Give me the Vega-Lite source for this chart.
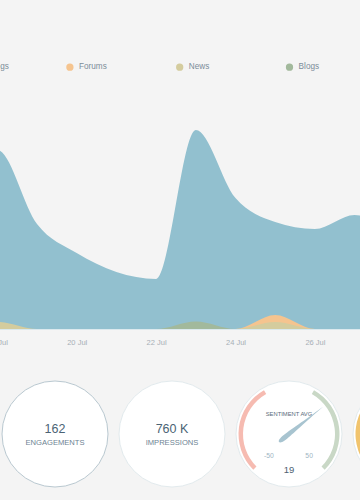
{
  "$schema": "https://vega.github.io/schema/vega-lite/v6.json",
  "width": 360,
  "height": 500,
  "autosize": {"type": "none"},
  "padding": 0,
  "background": "#f4f4f4",
  "config": {"view": {"stroke": null}, "font": "Liberation Sans"},
  "datasets": {
    "mentions": [
      {"date": "2015/07/17", "source": "Microblogs", "count": 140},
      {"date": "2015/07/18", "source": "Microblogs", "count": 179},
      {"date": "2015/07/19", "source": "Microblogs", "count": 105},
      {"date": "2015/07/20", "source": "Microblogs", "count": 76},
      {"date": "2015/07/21", "source": "Microblogs", "count": 57},
      {"date": "2015/07/22", "source": "Microblogs", "count": 50},
      {"date": "2015/07/23", "source": "Microblogs", "count": 199},
      {"date": "2015/07/24", "source": "Microblogs", "count": 131},
      {"date": "2015/07/25", "source": "Microblogs", "count": 107},
      {"date": "2015/07/26", "source": "Microblogs", "count": 100},
      {"date": "2015/07/27", "source": "Microblogs", "count": 114},
      {"date": "2015/07/28", "source": "Microblogs", "count": 95},
      {"date": "2015/07/17", "source": "Forums", "count": 0},
      {"date": "2015/07/18", "source": "Forums", "count": 0},
      {"date": "2015/07/19", "source": "Forums", "count": 0},
      {"date": "2015/07/20", "source": "Forums", "count": 0},
      {"date": "2015/07/21", "source": "Forums", "count": 0},
      {"date": "2015/07/22", "source": "Forums", "count": 0},
      {"date": "2015/07/23", "source": "Forums", "count": 0},
      {"date": "2015/07/24", "source": "Forums", "count": 0},
      {"date": "2015/07/25", "source": "Forums", "count": 14},
      {"date": "2015/07/26", "source": "Forums", "count": 0},
      {"date": "2015/07/27", "source": "Forums", "count": 0},
      {"date": "2015/07/28", "source": "Forums", "count": 0},
      {"date": "2015/07/17", "source": "News", "count": 5},
      {"date": "2015/07/18", "source": "News", "count": 7},
      {"date": "2015/07/19", "source": "News", "count": 0},
      {"date": "2015/07/20", "source": "News", "count": 0},
      {"date": "2015/07/21", "source": "News", "count": 0},
      {"date": "2015/07/22", "source": "News", "count": 0},
      {"date": "2015/07/23", "source": "News", "count": 0},
      {"date": "2015/07/24", "source": "News", "count": 0},
      {"date": "2015/07/25", "source": "News", "count": 7},
      {"date": "2015/07/26", "source": "News", "count": 0},
      {"date": "2015/07/27", "source": "News", "count": 0},
      {"date": "2015/07/28", "source": "News", "count": 0},
      {"date": "2015/07/17", "source": "Blogs", "count": 0},
      {"date": "2015/07/18", "source": "Blogs", "count": 0},
      {"date": "2015/07/19", "source": "Blogs", "count": 0},
      {"date": "2015/07/20", "source": "Blogs", "count": 0},
      {"date": "2015/07/21", "source": "Blogs", "count": 0},
      {"date": "2015/07/22", "source": "Blogs", "count": 0},
      {"date": "2015/07/23", "source": "Blogs", "count": 7.5},
      {"date": "2015/07/24", "source": "Blogs", "count": 0},
      {"date": "2015/07/25", "source": "Blogs", "count": 0},
      {"date": "2015/07/26", "source": "Blogs", "count": 0},
      {"date": "2015/07/27", "source": "Blogs", "count": 0},
      {"date": "2015/07/28", "source": "Blogs", "count": 0}
    ],
    "tiles": [
      {"tile": "Engagements"},
      {"tile": "Impressions"},
      {"tile": "Sentiment"},
      {"tile": "Share"}
    ],
    "kpis": [
      {"tile": "Engagements", "value": "162", "label": "ENGAGEMENTS"},
      {"tile": "Impressions", "value": "760 K", "label": "IMPRESSIONS"}
    ],
    "bands": [
      {"tile": "Sentiment", "band": "negative", "from": -50, "to": -11},
      {"tile": "Sentiment", "band": "positive", "from": 11, "to": 50},
      {"tile": "Share", "band": "share", "from": -50, "to": -11}
    ],
    "gauge": [
      {"tile": "Sentiment", "title": "SENTIMENT AVG", "value": 19}
    ],
    "gaugeEnds": [
      {"tile": "Sentiment", "v": -50},
      {"tile": "Sentiment", "v": 50}
    ]
  },
  "layer": [
    {
      "data": {"name": "mentions"},
      "mark": {"type": "area", "interpolate": "monotone", "opacity": 1, "clip": true},
      "encoding": {
        "x": {
          "field": "date",
          "type": "temporal",
          "scale": {
            "domain": [
              {"year": 2015, "month": "jul", "date": 18},
              {"year": 2015, "month": "jul", "date": 28}
            ],
            "range": [-2.7, 394.3]
          },
          "axis": {
            "offset": -171,
            "values": [
              {"year": 2015, "month": "jul", "date": 18},
              {"year": 2015, "month": "jul", "date": 20},
              {"year": 2015, "month": "jul", "date": 22},
              {"year": 2015, "month": "jul", "date": 24},
              {"year": 2015, "month": "jul", "date": 26}
            ],
            "format": "%d %b",
            "title": null,
            "grid": false,
            "ticks": false,
            "domain": true,
            "domainColor": "#dbe9ee",
            "domainWidth": 1,
            "labelFontSize": 7.5,
            "labelColor": "#a7afb6",
            "labelPadding": 9,
            "labelFlush": false,
            "labelOverlap": false,
            "labelBound": false
          }
        },
        "y": {
          "field": "count",
          "type": "quantitative",
          "stack": null,
          "scale": {"domain": [0, 200], "range": [329, 129]},
          "axis": null
        },
        "color": {
          "field": "source",
          "type": "nominal",
          "scale": {
            "domain": ["Microblogs", "Forums", "News", "Blogs"],
            "range": ["#92c0cf", "#f5c48f", "#d4cc9e", "#a2b99c"]
          },
          "legend": {
            "orient": "none",
            "legendX": -44,
            "legendY": 63,
            "direction": "horizontal",
            "columns": 4,
            "gridAlign": "all",
            "columnPadding": 56.8,
            "title": null,
            "symbolType": "circle",
            "symbolSize": 53,
            "symbolStrokeWidth": 0,
            "symbolOpacity": 1,
            "labelFontSize": 8.2,
            "labelColor": "#7b8c99",
            "labelOffset": 5,
            "padding": 0
          }
        }
      }
    },
    {
      "layer": [
        {
          "data": {"name": "tiles"},
          "mark": {"type": "point", "shape": "circle", "filled": true, "size": 11236, "fill": "#ffffff", "strokeWidth": 1, "opacity": 1},
          "encoding": {
            "x": {"field": "tile", "type": "nominal", "scale": {"type": "point", "domain": ["Engagements", "Impressions", "Sentiment", "Share"], "range": [55, 406], "padding": 0}, "axis": null},
            "y": {"datum": 0, "type": "quantitative", "scale": {"domain": [0, 1], "range": [434, 334]}, "axis": null},
            "stroke": {"field": "tile", "type": "nominal", "scale": {"domain": ["Engagements", "Impressions", "Sentiment", "Share"], "range": ["#b9c8d0", "#e2eaed", "#e2eaed", "#e2eaed"]}, "legend": null}
          }
        },
        {
          "data": {"name": "bands"},
          "mark": {"type": "arc", "radius": 50.5, "radius2": 46},
          "encoding": {
            "x": {"field": "tile", "type": "nominal", "scale": {"type": "point", "domain": ["Engagements", "Impressions", "Sentiment", "Share"], "range": [55, 406], "padding": 0}, "axis": null},
            "y": {"datum": 0, "type": "quantitative", "scale": {"domain": [0, 1], "range": [434, 334]}, "axis": null},
            "theta": {"field": "from", "type": "quantitative", "stack": null, "scale": {"domain": [-50, 50], "range": [-2.35619, 2.35619]}},
            "theta2": {"field": "to"},
            "fill": {"field": "band", "type": "nominal", "scale": {"domain": ["negative", "positive", "share"], "range": ["#f6bbb1", "#c9d8c6", "#f1c46e"]}, "legend": null}
          }
        },
        {
          "data": {"name": "kpis"},
          "mark": {"type": "text", "fontSize": 12.5, "color": "#4b6374", "baseline": "alphabetic", "align": "center", "dy": -1},
          "encoding": {
            "x": {"field": "tile", "type": "nominal", "scale": {"type": "point", "domain": ["Engagements", "Impressions", "Sentiment", "Share"], "range": [55, 406], "padding": 0}, "axis": null},
            "y": {"datum": 0, "type": "quantitative", "scale": {"domain": [0, 1], "range": [434, 334]}, "axis": null},
            "text": {"field": "value"}
          }
        },
        {
          "data": {"name": "kpis"},
          "mark": {"type": "text", "fontSize": 7.6, "color": "#6e8393", "baseline": "alphabetic", "align": "center", "dy": 11.3},
          "encoding": {
            "x": {"field": "tile", "type": "nominal", "scale": {"type": "point", "domain": ["Engagements", "Impressions", "Sentiment", "Share"], "range": [55, 406], "padding": 0}, "axis": null},
            "y": {"datum": 0, "type": "quantitative", "scale": {"domain": [0, 1], "range": [434, 334]}, "axis": null},
            "text": {"field": "label"}
          }
        },
        {
          "data": {"name": "gauge"},
          "mark": {"type": "text", "fontSize": 5.8, "color": "#5a6b7b", "baseline": "alphabetic", "align": "center", "dy": -18},
          "encoding": {
            "x": {"field": "tile", "type": "nominal", "scale": {"type": "point", "domain": ["Engagements", "Impressions", "Sentiment", "Share"], "range": [55, 406], "padding": 0}, "axis": null},
            "y": {"datum": 0, "type": "quantitative", "scale": {"domain": [0, 1], "range": [434, 334]}, "axis": null},
            "text": {"field": "title"}
          }
        },
        {
          "data": {"name": "gauge"},
          "mark": {"type": "text", "fontSize": 9.5, "color": "#4e6171", "baseline": "alphabetic", "align": "center", "dy": 38.7},
          "encoding": {
            "x": {"field": "tile", "type": "nominal", "scale": {"type": "point", "domain": ["Engagements", "Impressions", "Sentiment", "Share"], "range": [55, 406], "padding": 0}, "axis": null},
            "y": {"datum": 0, "type": "quantitative", "scale": {"domain": [0, 1], "range": [434, 334]}, "axis": null},
            "text": {"field": "value"}
          }
        },
        {
          "data": {"name": "gaugeEnds"},
          "mark": {"type": "text", "fontSize": 6.8, "color": "#a0b6c3", "baseline": "middle", "align": "center", "radius": 28.5, "dy": 2},
          "encoding": {
            "x": {"field": "tile", "type": "nominal", "scale": {"type": "point", "domain": ["Engagements", "Impressions", "Sentiment", "Share"], "range": [55, 406], "padding": 0}, "axis": null},
            "y": {"datum": 0, "type": "quantitative", "scale": {"domain": [0, 1], "range": [434, 334]}, "axis": null},
            "theta": {"field": "v", "type": "quantitative", "stack": null, "scale": {"domain": [-50, 50], "range": [-2.35619, 2.35619]}},
            "text": {"field": "v"}
          }
        },
        {
          "data": {"name": "gauge"},
          "mark": {"type": "point", "shape": "M0,-1 C0.01,-0.6 0.055,-0.1 0.055,0.1 C0.055,0.24 0.03,0.29 0,0.29 C-0.03,0.29 -0.055,0.24 -0.055,0.1 C-0.055,-0.1 -0.01,-0.6 0,-1 Z", "filled": true, "size": 7744, "fill": "#a8c4d0", "strokeWidth": 0, "opacity": 1},
          "encoding": {
            "x": {"field": "tile", "type": "nominal", "scale": {"type": "point", "domain": ["Engagements", "Impressions", "Sentiment", "Share"], "range": [55, 406], "padding": 0}, "axis": null},
            "y": {"datum": 0, "type": "quantitative", "scale": {"domain": [0, 1], "range": [434, 334]}, "axis": null},
            "angle": {"field": "value", "type": "quantitative", "scale": {"domain": [-50, 50], "range": [-135, 135]}}
          }
        }
      ]
    }
  ],
  "resolve": {"scale": {"x": "independent", "y": "independent"}}
}
